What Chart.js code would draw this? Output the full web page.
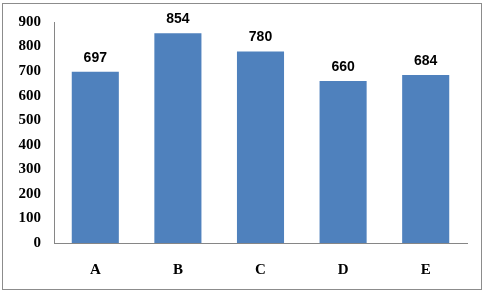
<!DOCTYPE html>
<html>
<head>
<meta charset="utf-8">
<script src="https://cdn.jsdelivr.net/npm/chart.js@4.4.1/dist/chart.umd.min.js"></script>
<style>
  html, body { margin: 0; padding: 0; background: #fff; }
  #wrap { position: relative; width: 485px; height: 293px; overflow: hidden; }
  #frame { position: absolute; left: 2px; top: 3px; width: 478px; height: 285px; border: 1px solid #8c8c8c; }
  #chart { position: absolute; left: 0; top: 0; }
</style>
</head>
<body>
<div id="wrap">
  <div id="frame"></div>
  <canvas id="chart" width="485" height="293"></canvas>
</div>
<script>
const categories = ['A', 'B', 'C', 'D', 'E']
const values = [697, 854, 780, 660, 684]
const yMax = 900
const yStep = 100

const barColor = '#4f81bd'
const axisColor = '#868686'

// value labels above bars
const valueLabels = {
  id: 'valueLabels',
  afterDatasetsDraw(chart) {
    const ctx = chart.ctx
    const meta = chart.getDatasetMeta(0)
    ctx.save()
    ctx.font = 'bold 14px "Liberation Sans", Arial, sans-serif'
    ctx.fillStyle = '#000'
    ctx.textAlign = 'center'
    ctx.textBaseline = 'alphabetic'
    meta.data.forEach((bar, i) => {
      ctx.fillText(String(values[i]), bar.x, bar.y - 10)
    })
    ctx.restore()
  }
}

new Chart(document.getElementById('chart'), {
  type: 'bar',
  data: {
    labels: categories,
    datasets: [{
      data: values,
      backgroundColor: barColor,
      borderWidth: 0,
      categoryPercentage: 0.57,
      barPercentage: 1
    }]
  },
  options: {
    responsive: false,
    animation: false,
    layout: { padding: { top: 18, right: 18, left: 0, bottom: 0 } },
    plugins: {
      legend: { display: false },
      tooltip: { enabled: false }
    },
    scales: {
      x: {
        grid: { display: false, drawTicks: false },
        border: { color: axisColor, width: 1 },
        ticks: {
          color: '#000',
          padding: 18,
          font: { family: '"Liberation Serif", "Times New Roman", serif', size: 15, weight: 'bold' }
        },
        afterFit(scale) { scale.height = 50 }
      },
      y: {
        min: 0,
        max: yMax,
        grid: { display: false, drawTicks: false },
        border: { color: axisColor, width: 1 },
        ticks: {
          stepSize: yStep,
          color: '#000',
          padding: 13,
          font: { family: '"Liberation Serif", "Times New Roman", serif', size: 15, weight: 'bold' }
        },
        afterFit(scale) { scale.width = 54 }
      }
    }
  },
  plugins: [valueLabels]
})
</script>
</body>
</html>
